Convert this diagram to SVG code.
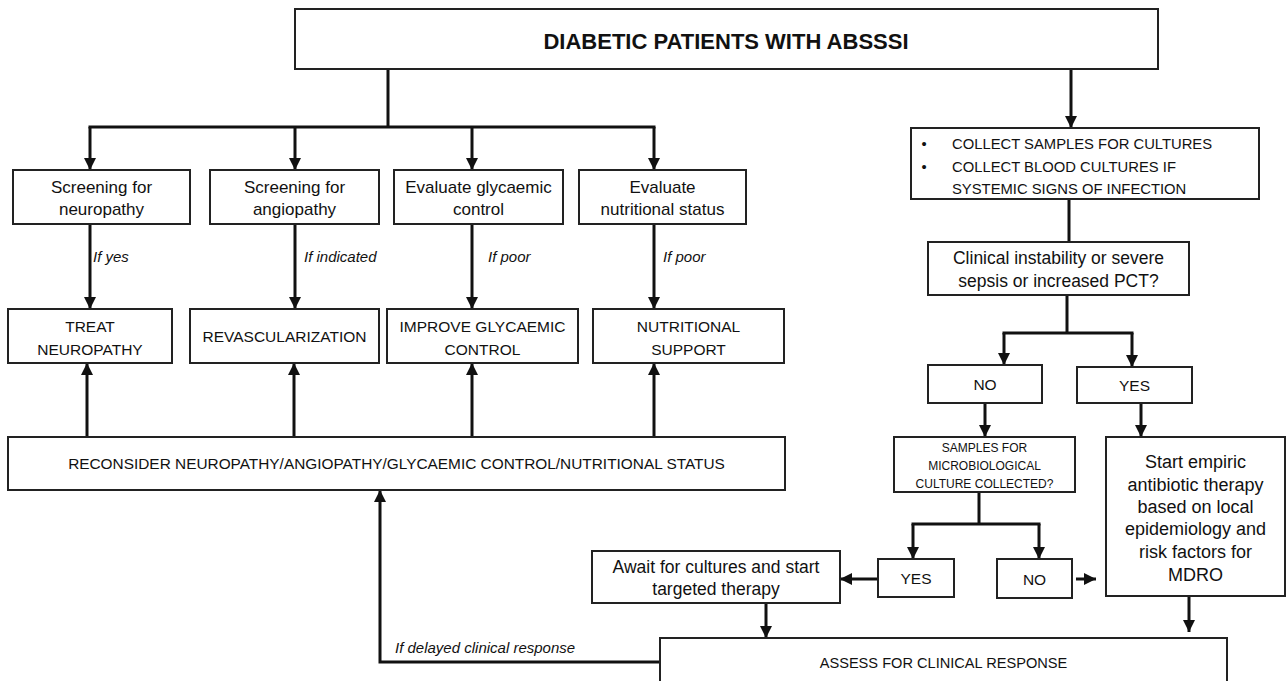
<svg xmlns="http://www.w3.org/2000/svg" width="1287" height="681" viewBox="0 0 1287 681">
<style>
  .box{fill:#fff;stroke:#222;stroke-width:2}
  .t{font-family:"Liberation Sans",Arial,sans-serif;fill:#111;text-anchor:middle}
  .lbl{font-family:"Liberation Sans",Arial,sans-serif;fill:#111;font-style:italic;font-size:15px}
  .c{fill:none;stroke:#111;stroke-width:3}
  .a{marker-end:url(#ah)}
</style>
<defs>
  <marker id="ah" markerUnits="userSpaceOnUse" markerWidth="12" markerHeight="12" viewBox="0 0 12 12" refX="12" refY="6" orient="auto">
    <path d="M0,0 L12,6 L0,12 z" fill="#111"/>
  </marker>
</defs>
<rect width="1287" height="681" fill="#fff"/>

<g id="connectors">
  <path class="c" d="M388,69 L388,127"/>
  <path class="c" d="M88.5,127 L655.5,127"/>
  <path class="c a" d="M90,127 L90,170"/>
  <path class="c a" d="M295,127 L295,170"/>
  <path class="c a" d="M472,127 L472,170"/>
  <path class="c a" d="M654,127 L654,170"/>
  <path class="c a" d="M90,224 L90,309"/>
  <path class="c a" d="M295,224 L295,309"/>
  <path class="c a" d="M472,224 L472,309"/>
  <path class="c a" d="M654,224 L654,309"/>
  <path class="c a" d="M87,437 L87,363"/>
  <path class="c a" d="M294,437 L294,363"/>
  <path class="c a" d="M472,437 L472,363"/>
  <path class="c a" d="M654,437 L654,363"/>
  <path class="c a" d="M660,662 L380,662 L380,490"/>
  <path class="c a" d="M1071,69 L1071,128"/>
  <path class="c" d="M1069,199 L1069,242"/>
  <path class="c" d="M1067,295 L1067,333"/>
  <path class="c" d="M1002.5,333 L1133.5,333"/>
  <path class="c a" d="M1004,333 L1004,365"/>
  <path class="c a" d="M1132,333 L1132,367"/>
  <path class="c a" d="M985,403 L985,437"/>
  <path class="c a" d="M1141,403 L1141,437"/>
  <path class="c" d="M979,492 L979,524"/>
  <path class="c" d="M911.5,524 L1040.5,524"/>
  <path class="c a" d="M913,524 L913,559"/>
  <path class="c a" d="M1039,524 L1039,559"/>
  <path class="c a" d="M878,579 L840,579"/>
  <path class="c a" d="M1076,579 L1096,579"/>
  <path class="c a" d="M766,603 L766,638"/>
  <path class="c a" d="M1189,596 L1189,632"/>
  <text class="lbl" x="93" y="262">If yes</text>
  <text class="lbl" x="304" y="262">If indicated</text>
  <text class="lbl" x="488" y="262">If poor</text>
  <text class="lbl" x="663" y="262">If poor</text>
  <text class="lbl" x="395" y="653">If delayed clinical response</text>
</g>

<g id="top">
  <rect class="box" x="295" y="9" width="863" height="60"/>
  <text class="t" x="726" y="49" font-size="22" font-weight="bold">DIABETIC PATIENTS WITH ABSSSI</text>
</g>

<g id="screen-neuro">
  <rect class="box" x="13" y="170" width="177" height="54"/>
  <text class="t" x="101.5" y="193" font-size="17">Screening for</text>
  <text class="t" x="101.5" y="215" font-size="17">neuropathy</text>
</g>
<g id="screen-angio">
  <rect class="box" x="210" y="170" width="169" height="54"/>
  <text class="t" x="294.5" y="193" font-size="17">Screening for</text>
  <text class="t" x="294.5" y="215" font-size="17">angiopathy</text>
</g>
<g id="eval-glyc">
  <rect class="box" x="394" y="170" width="169" height="54"/>
  <text class="t" x="478.5" y="193" font-size="17">Evaluate glycaemic</text>
  <text class="t" x="478.5" y="215" font-size="17">control</text>
</g>
<g id="eval-nutr">
  <rect class="box" x="579" y="170" width="167" height="54"/>
  <text class="t" x="662.5" y="193" font-size="17">Evaluate</text>
  <text class="t" x="662.5" y="215" font-size="17">nutritional status</text>
</g>

<g id="treat-neuro">
  <rect class="box" x="8" y="309" width="164" height="54"/>
  <text class="t" x="90" y="332" font-size="15.5">TREAT</text>
  <text class="t" x="90" y="355" font-size="15.5">NEUROPATHY</text>
</g>
<g id="revasc">
  <rect class="box" x="190" y="309" width="189" height="54"/>
  <text class="t" x="284.5" y="342" font-size="15.5">REVASCULARIZATION</text>
</g>
<g id="improve-glyc">
  <rect class="box" x="387" y="309" width="191" height="54"/>
  <text class="t" x="482.5" y="332" font-size="15.5">IMPROVE GLYCAEMIC</text>
  <text class="t" x="482.5" y="355" font-size="15.5">CONTROL</text>
</g>
<g id="nutr-support">
  <rect class="box" x="593" y="309" width="191" height="54"/>
  <text class="t" x="688.5" y="332" font-size="15.5">NUTRITIONAL</text>
  <text class="t" x="688.5" y="355" font-size="15.5">SUPPORT</text>
</g>

<g id="reconsider">
  <rect class="box" x="8" y="437" width="777" height="53"/>
  <text class="t" x="396.5" y="469" font-size="15.4">RECONSIDER NEUROPATHY/ANGIOPATHY/GLYCAEMIC CONTROL/NUTRITIONAL STATUS</text>
</g>

<g id="collect">
  <rect class="box" x="911" y="128" width="348" height="71"/>
  <text class="t" x="924" y="149" font-size="14.8">•</text>
  <text class="t" x="924" y="172" font-size="14.8">•</text>
  <text class="t" x="952" y="149" font-size="14.8" text-anchor="start" style="text-anchor:start">COLLECT SAMPLES FOR CULTURES</text>
  <text class="t" x="952" y="172" font-size="14.8" style="text-anchor:start">COLLECT BLOOD CULTURES IF</text>
  <text class="t" x="952" y="194" font-size="14.8" style="text-anchor:start">SYSTEMIC SIGNS OF INFECTION</text>
</g>

<g id="clinical">
  <rect class="box" x="928" y="242" width="261" height="53"/>
  <text class="t" x="1058.5" y="264" font-size="17.5">Clinical instability or severe</text>
  <text class="t" x="1058.5" y="287" font-size="17.5">sepsis or increased PCT?</text>
</g>

<g id="no1">
  <rect class="box" x="928" y="365" width="114" height="38"/>
  <text class="t" x="985" y="390" font-size="15.5">NO</text>
</g>
<g id="yes1">
  <rect class="box" x="1077" y="367" width="115" height="36"/>
  <text class="t" x="1134.5" y="391" font-size="15.5">YES</text>
</g>

<g id="samples">
  <rect class="box" x="894" y="437" width="181" height="55"/>
  <text class="t" x="984.5" y="452" font-size="12">SAMPLES FOR</text>
  <text class="t" x="984.5" y="470" font-size="12">MICROBIOLOGICAL</text>
  <text class="t" x="984.5" y="488" font-size="12">CULTURE COLLECTED?</text>
</g>

<g id="empiric">
  <rect class="box" x="1106" y="437" width="179" height="159"/>
  <text class="t" x="1195.5" y="468" font-size="18">Start empiric</text>
  <text class="t" x="1195.5" y="491" font-size="18">antibiotic therapy</text>
  <text class="t" x="1195.5" y="513" font-size="18">based on local</text>
  <text class="t" x="1195.5" y="535" font-size="18">epidemiology and</text>
  <text class="t" x="1195.5" y="558" font-size="18">risk factors for</text>
  <text class="t" x="1195.5" y="581" font-size="18">MDRO</text>
</g>

<g id="yes2">
  <rect class="box" x="878" y="559" width="76" height="38"/>
  <text class="t" x="916" y="584" font-size="15.5">YES</text>
</g>
<g id="no2">
  <rect class="box" x="997" y="559" width="75" height="39"/>
  <text class="t" x="1034.5" y="585" font-size="15.5">NO</text>
</g>

<g id="await">
  <rect class="box" x="592" y="551" width="248" height="52"/>
  <text class="t" x="716" y="573" font-size="17.5">Await for cultures and start</text>
  <text class="t" x="716" y="595" font-size="17.5">targeted therapy</text>
</g>

<g id="assess">
  <rect class="box" x="660" y="638" width="567" height="60"/>
  <text class="t" x="943.5" y="668" font-size="14.6">ASSESS FOR CLINICAL RESPONSE</text>
</g>
</svg>
